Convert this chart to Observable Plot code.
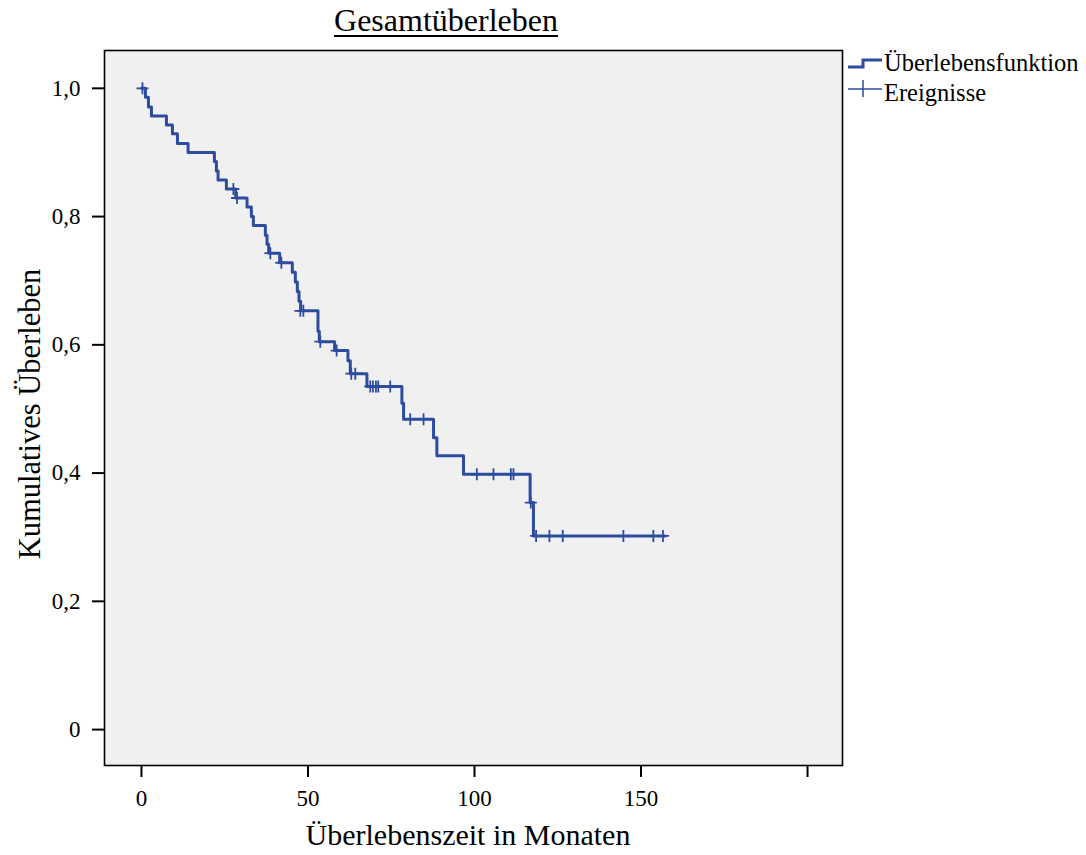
<!DOCTYPE html>
<html><head><meta charset="utf-8">
<script src="https://cdn.jsdelivr.net/npm/d3@7"></script>
<script src="https://cdn.jsdelivr.net/npm/@observablehq/plot@0.6"></script>
<style>
body{margin:0;background:#fff;}
#wrap{position:relative;width:1086px;height:855px;font-family:"Liberation Serif","Times New Roman",serif;color:#000;overflow:hidden;}
#chart{position:absolute;left:0;top:0;}
.abs{position:absolute;white-space:nowrap;}
.title{left:0;width:892px;top:4px;text-align:center;font-size:32px;line-height:32px;text-decoration:underline;text-decoration-thickness:1.5px;text-underline-offset:4px;}
.ylab{left:-270px;top:399px;width:600px;height:30px;line-height:30px;text-align:center;font-size:30.5px;transform:rotate(-90deg);}
.xlab{left:168px;top:818px;width:600px;line-height:34px;text-align:center;font-size:30px;}
.leg{left:884px;font-size:24.5px;line-height:24px;}
</style></head><body>
<div id="wrap">
<div id="chart"></div>
<div class="abs title">Gesamtüberleben</div>
<div class="abs ylab">Kumulatives Überleben</div>
<div class="abs xlab">Überlebenszeit in Monaten</div>
<svg class="abs" style="left:846px;top:50px" width="40" height="52">
  <path d="M2,17 H17 V10 H36" fill="none" stroke="#2d4c9f" stroke-width="3"/>
  <path d="M2,39 H36 M17,30 V47" fill="none" stroke="#2d4c9f" stroke-width="1.5"/>
</svg>
<div class="abs leg" style="top:51px">Überlebensfunktion</div>
<div class="abs leg" style="top:81px">Ereignisse</div>
</div>
<script>
// Kaplan-Meier steps: time (months) and survival after that time
const stepMonths = [0, 1.2, 2.1, 3.0, 7.5, 9.3, 10.8, 14.0, 21.9, 22.5, 23.0, 25.5, 28.3, 31.7, 33.0, 33.6, 37.2, 37.7, 38.2, 41.5, 45.3, 46.2, 46.8, 47.3, 47.8, 53.0, 53.4, 58.0, 62.0, 62.7, 67.7, 78.2, 78.7, 87.7, 88.7, 96.7, 116.7, 117.7, 157.3];
const stepSurvival = [1.0, 0.986, 0.971, 0.957, 0.943, 0.929, 0.914, 0.900, 0.886, 0.871, 0.857, 0.843, 0.829, 0.815, 0.800, 0.786, 0.771, 0.757, 0.743, 0.728, 0.713, 0.698, 0.683, 0.668, 0.653, 0.621, 0.605, 0.591, 0.575, 0.555, 0.535, 0.509, 0.484, 0.455, 0.427, 0.398, 0.354, 0.302, 0.302];
// censored observations ("Ereignisse" marks)
const censorMonths = [0.3, 27.6, 28.7, 38.7, 42.0, 47.7, 48.6, 53.7, 58.6, 63.0, 64.2, 68.7, 69.5, 70.4, 71.1, 74.7, 80.7, 84.7, 100.7, 105.7, 110.9, 111.7, 116.9, 118.5, 122.5, 126.5, 144.7, 153.7, 156.6];
const censorSurvival = [1.0, 0.843, 0.829, 0.743, 0.728, 0.653, 0.653, 0.605, 0.591, 0.555, 0.555, 0.535, 0.535, 0.535, 0.535, 0.535, 0.484, 0.484, 0.398, 0.398, 0.398, 0.398, 0.354, 0.302, 0.302, 0.302, 0.302, 0.302, 0.302];
const xTickValues = [0, 50, 100, 150, 200];
const xTickLabels = ["0", "50", "100", "150", ""];
const yTickValues = [0, 0.2, 0.4, 0.6, 0.8, 1.0];
const yTickLabels = ["0", "0,2", "0,4", "0,6", "0,8", "1,0"];

const steps = stepMonths.map((t, i) => ({t, s: stepSurvival[i]}));
const censors = censorMonths.map((t, i) => ({t, s: censorSurvival[i]}));
const blue = "#2d4c9f";
const plusSymbol = {draw(ctx, size) { const r = Math.sqrt(size / Math.PI); ctx.moveTo(-r, 0); ctx.lineTo(r, 0); ctx.moveTo(0, -r); ctx.lineTo(0, r); }};

const chart = Plot.plot({
  width: 1086, height: 855,
  marginLeft: 104, marginRight: 244, marginTop: 50, marginBottom: 90,
  style: {fontFamily: "'Liberation Serif', 'Times New Roman', serif", fontSize: "23px", background: "transparent", color: "#000", overflow: "visible"},
  x: {domain: [-11.1, 210.5]},
  y: {domain: [-0.056, 1.059]},
  marks: [
    Plot.frame({fill: "#f0f0f0", stroke: null}),
    Plot.axisX({ticks: xTickValues, tickFormat: d => xTickLabels[xTickValues.indexOf(d)], tickSize: 12, tickPadding: 12, strokeWidth: 2, label: null}),
    Plot.axisY({ticks: yTickValues, tickFormat: d => yTickLabels[yTickValues.indexOf(d)], tickSize: 12, tickPadding: 12, strokeWidth: 2, label: null}),
    Plot.line(steps, {x: "t", y: "s", curve: "step-after", stroke: blue, strokeWidth: 3}),
    Plot.dot(censors, {x: "t", y: "s", symbol: plusSymbol, r: 6, stroke: blue, strokeWidth: 1.8, fill: "none"}),
    Plot.frame({stroke: "#000", strokeWidth: 1.6})
  ]
});
document.getElementById("chart").appendChild(chart);
</script>
</body></html>
